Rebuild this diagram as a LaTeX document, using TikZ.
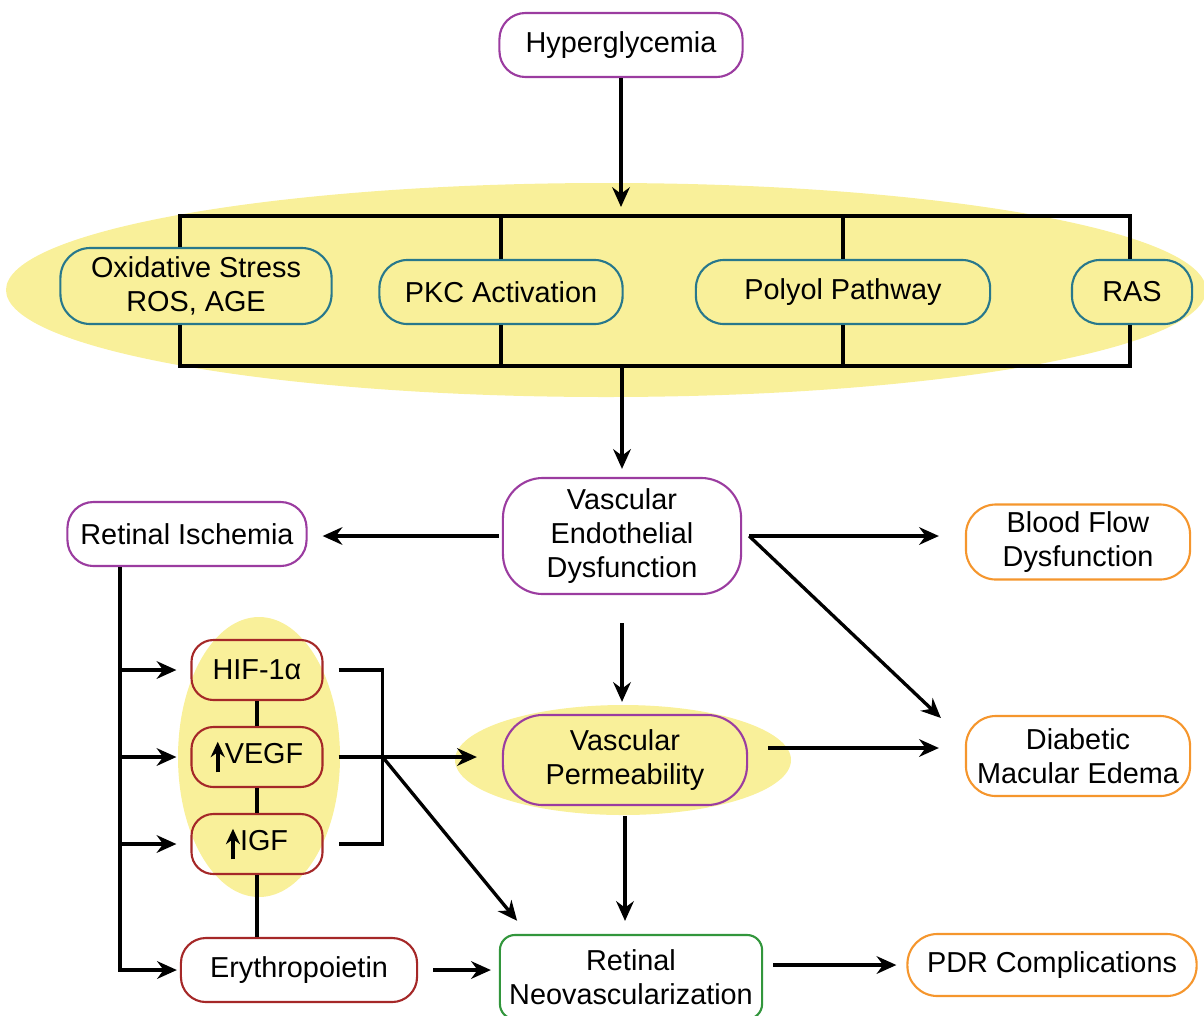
\documentclass[tikz,border=0pt]{standalone}
\usepackage{fontspec}
\setmainfont{Liberation Sans}
\usetikzlibrary{arrows.meta, positioning}

\definecolor{hlyellow}{RGB}{249,240,154}
\definecolor{bpurple}{RGB}{155,60,160}
\definecolor{bteal}{RGB}{40,120,140}
\definecolor{bred}{RGB}{165,40,40}
\definecolor{borange}{RGB}{245,150,45}
\definecolor{bgreen}{RGB}{50,150,60}

\newcommand{\upar}{\tikz[baseline=0pt]\draw[line width=1pt,-{Stealth[length=4.4pt,width=4pt]}] (0pt,-2.5pt) -- (0pt,6.2pt);}

\begin{document}
\begin{tikzpicture}[>={Stealth[length=5.6pt,width=5pt]}, x=0.01cm, y=-0.01cm, font=\fontsize{8.2}{9.7}\selectfont]
        \useasboundingbox (0,0) rectangle (1204,1015);
        \tikzstyle{box}=[draw, line width=0.6pt, rounded corners=0.26cm, align=center, inner sep=0pt]
        \tikzstyle{purplebox}=[box, draw=bpurple, fill=white]
        \tikzstyle{tealbox}=[box, draw=bteal, fill=hlyellow, minimum height=0.64cm]
        \tikzstyle{redbox}=[box, draw=bred, rounded corners=0.22cm, minimum width=1.31cm, minimum height=0.6cm]
        \tikzstyle{orangebox}=[box, draw=borange, fill=white, rounded corners=0.3cm]
        \tikzstyle{arr}=[->, line width=0.95pt]
        \tikzstyle{frame}=[line width=0.95pt]

        % Highlights
        \fill[hlyellow] (606,290) ellipse [x radius=600, y radius=107];
        \fill[hlyellow] (259,757) ellipse [x radius=81, y radius=140];
        \fill[hlyellow] (623,760) ellipse [x radius=168, y radius=55];

        % Nodes
        \node[purplebox, minimum width=2.43cm, minimum height=0.64cm] (hyper) at (621,45) {Hyperglycemia};

        \node[tealbox, minimum width=2.71cm, minimum height=0.76cm, rounded corners=0.3cm] (ox) at (196,286) {Oxidative Stress\\ROS, AGE};
        \node[tealbox, minimum width=2.43cm, rounded corners=0.28cm] (pkc) at (501,292) {PKC Activation};
        \node[tealbox, minimum width=2.94cm, rounded corners=0.28cm] (polyol) at (843,292) {Polyol Pathway};
        \node[tealbox, minimum width=1.2cm, rounded corners=0.28cm] (ras) at (1132,292) {RAS};

        \node[purplebox, minimum width=2.38cm, minimum height=1.16cm, rounded corners=0.4cm] (ved) at (622,536) {Vascular\\Endothelial\\Dysfunction};
        \node[purplebox, minimum width=2.39cm, minimum height=0.64cm] (isch) at (187,534) {Retinal Ischemia};
        \node[orangebox, minimum width=2.24cm, minimum height=0.75cm] (bfd) at (1078,542) {Blood Flow\\Dysfunction};

        \node[box, draw=bpurple, fill=hlyellow, minimum width=2.44cm, minimum height=0.9cm, rounded corners=0.4cm] (vp) at (625,760) {Vascular\\Permeability};
        \node[orangebox, minimum width=2.24cm, minimum height=0.8cm] (dme) at (1078,756) {Diabetic\\Macular Edema};

        \node[redbox] (hif) at (257,670) {HIF-1α};
        \node[redbox] (vegf) at (257,757) {\upar VEGF};
        \node[redbox] (igf) at (257,844) {\upar IGF};
        \node[redbox, fill=white, minimum width=2.36cm, minimum height=0.64cm, rounded corners=0.25cm] (epo) at (299,970) {Erythropoietin};

        \node[box, draw=bgreen, fill=white, minimum width=2.62cm, minimum height=0.84cm, rounded corners=0.15cm] (rn) at (631,977) {Retinal\\Neovascularization};
        \node[orangebox, minimum width=2.89cm, minimum height=0.62cm] (pdr) at (1052,965) {PDR Complications};

        % Frame round the pathways
        \coordinate (ftl) at (180,216);
        \coordinate (ftr) at (1130,216);
        \coordinate (fbl) at (180,366);
        \coordinate (fbr) at (1130,366);

        \draw[frame] (ftl |- ox.north) -- (ftl) -- (ftr) -- (ftr |- ras.north);
        \draw[frame] (fbl |- ox.south) -- (fbl) -- (fbr) -- (fbr |- ras.south);
        \draw[frame] (pkc.north) -- (pkc.north |- ftl);
        \draw[frame] (pkc.south) -- (pkc.south |- fbl);
        \draw[frame] (polyol.north) -- (polyol.north |- ftl);
        \draw[frame] (polyol.south) -- (polyol.south |- fbl);

        % Edges
        \draw[arr, shorten >=0.09cm] (hyper.south) -- (hyper.south |- ftl);
        \draw[arr, shorten >=0.08cm] (ved.north |- fbl) -- (ved.north);

        \coordinate (vedout) at ([xshift=0.07cm]ved.east);
        \draw[arr, shorten <=0.03cm, shorten >=0.15cm] (ved.west) -- (ved.west -| isch.east);
        \draw[arr, shorten >=0.26cm] (vedout) -- (vedout -| bfd.west);
        \draw[arr] (vedout) -- ([xshift=-0.24cm, yshift=0.38cm]dme.west);

        \draw[arr, shorten <=0.28cm, shorten >=0.12cm] (ved.south) -- (ved.south |- vp.north);
        \draw[arr, shorten <=0.2cm, shorten >=0.26cm] ([yshift=0.12cm]vp.east) -- ([yshift=0.12cm]vp.east -| dme.west);
        \draw[arr, shorten <=0.1cm, shorten >=0.13cm] (vp.south) -- (vp.south |- rn.north);
        \draw[arr, shorten <=0.1cm, shorten >=0.1cm] (pdr.west -| rn.east) -- (pdr.west);

        % Ischemia branch
        \coordinate (tr) at ([xshift=-0.67cm]isch.south);
        \draw[arr, shorten >=0.03cm] (tr) |- (epo.west);
        \draw[arr, shorten >=0.14cm] (tr |- hif.west) -- (hif.west);
        \draw[arr, shorten >=0.14cm] (tr |- vegf.west) -- (vegf.west);
        \draw[arr, shorten >=0.14cm] (tr |- igf.west) -- (igf.west);

        \draw[frame] (hif.south) -- (vegf.north);
        \draw[frame] (vegf.south) -- (igf.north);
        \draw[frame] (igf.south) -- (igf.south |- epo.north);

        % Growth factors
        \coordinate (br) at ([xshift=0.59cm]vegf.east);
        \draw[frame] ([xshift=0.15cm]hif.east) -| (br) |- ([xshift=0.15cm]igf.east);
        \draw[arr, shorten <=0.15cm, shorten >=0.25cm] (vegf.east) -- (vegf.east -| vp.west);
        \draw[arr, shorten >=0.17cm] (br) -- ([xshift=0.29cm]rn.north west);
        \draw[arr, shorten <=0.15cm, shorten >=0.08cm] (epo.east) -- (epo.east -| rn.west);

      \end{tikzpicture}
\end{document}
